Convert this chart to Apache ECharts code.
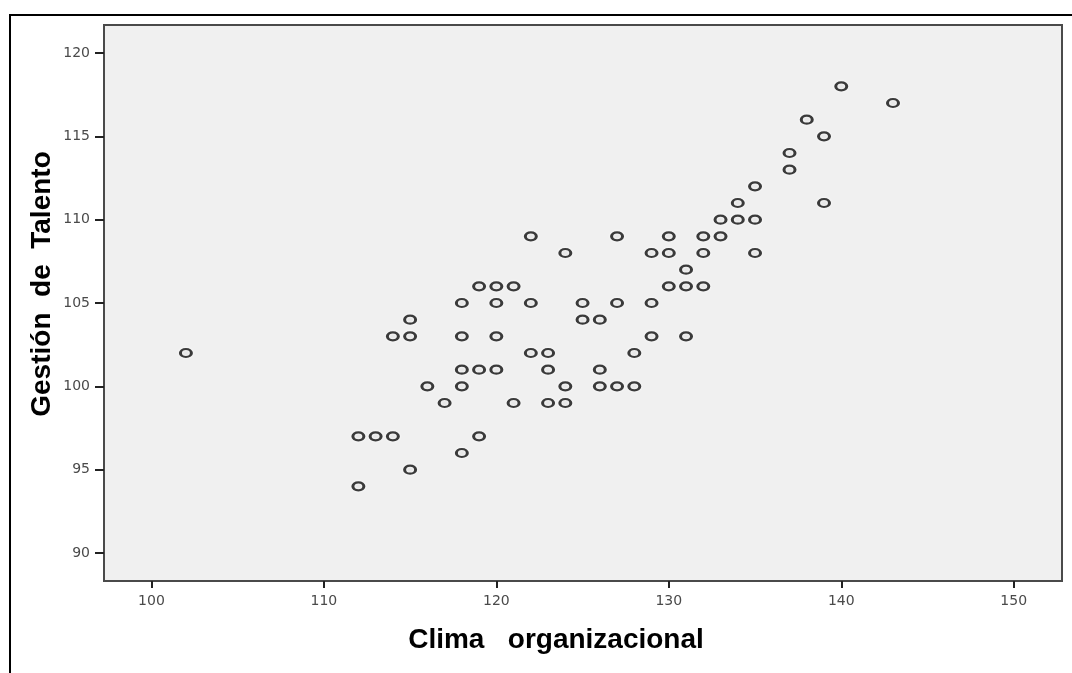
<!DOCTYPE html>
<html>
<head>
<meta charset="utf-8">
<script src="https://cdn.jsdelivr.net/npm/echarts@6/dist/echarts.min.js"></script>
<style>
html, body { margin: 0; padding: 0; background: #fff; }
#main { width: 1072px; height: 673px; }
</style>
</head>
<body>
<div id="main"></div>
<script>
// Clima organizacional (x) vs Gestión de Talento (y)
var clima = [102, 112, 113, 114, 112, 114, 115, 115, 115, 116, 117,
	118, 118, 118, 118, 118, 119, 119, 119, 120, 120, 120, 120, 121, 121,
	122, 122, 122, 123, 123, 123, 124, 124, 124, 125, 125, 126, 126, 126,
	127, 127, 127, 128, 128, 129, 129, 129, 130, 130, 130, 131, 131, 131,
	132, 132, 132, 133, 133, 134, 134, 135, 135, 135, 137, 137, 138, 139,
	139, 140, 143];
var gestion = [102, 97, 97, 97, 94, 103, 103, 104, 95, 100, 99,
	105, 103, 101, 100, 96, 106, 101, 97, 106, 105, 103, 101, 106, 99,
	109, 105, 102, 102, 101, 99, 108, 100, 99, 105, 104, 104, 101, 100,
	109, 105, 100, 102, 100, 108, 105, 103, 109, 108, 106, 107, 106, 103,
	109, 108, 106, 110, 109, 111, 110, 112, 110, 108, 114, 113, 116, 115,
	111, 118, 117];
var xTicks = [100, 110, 120, 130, 140, 150];
var yTicks = [90, 95, 100, 105, 110, 115, 120];

var points = [];
for (var i = 0; i < clima.length; i++) {
	points.push([clima[i], gestion[i]]);
}

var myChart = echarts.init(document.getElementById('main'));
var option = {
	backgroundColor: '#fff',
	animation: false,
	grid: {
		left: 104,
		right: 10,
		top: 25,
		bottom: 92,
		show: true,
		backgroundColor: '#f0f0f0',
		borderColor: '#4a4a4a',
		borderWidth: 2
	},
	xAxis: {
		type: 'value',
		min: 97.25,
		max: 152.8,
		splitLine: { show: false },
		axisLine: { onZero: false, lineStyle: { color: '#4a4a4a', width: 2 } },
		axisTick: {
			length: 7,
			customValues: xTicks,
			lineStyle: { color: '#222', width: 2 }
		},
		axisLabel: {
			customValues: xTicks,
			margin: 13,
			color: '#4a4a4a',
			fontSize: 14,
			fontFamily: 'DejaVu Sans'
		}
	},
	yAxis: {
		type: 'value',
		min: 88.32,
		max: 121.68,
		splitLine: { show: false },
		axisLine: { onZero: false, lineStyle: { color: '#4a4a4a', width: 2 } },
		axisTick: {
			length: 9,
			customValues: yTicks,
			lineStyle: { color: '#222', width: 2 }
		},
		axisLabel: {
			customValues: yTicks,
			margin: 14,
			color: '#4a4a4a',
			fontSize: 14,
			fontFamily: 'DejaVu Sans'
		}
	},
	graphic: [{
		type: 'rect',
		z: -10,
		shape: { x: 10, y: 15, width: 1100, height: 720 },
		style: { fill: 'none', stroke: '#000', lineWidth: 2 }
	}, {
		type: 'text',
		x: 42,
		y: 284,
		rotation: Math.PI / 2,
		style: {
			text: 'Gestión  de  Talento',
			font: 'bold 28px "Liberation Sans", Arial, sans-serif',
			fill: '#000',
			align: 'center',
			verticalAlign: 'middle'
		}
	}, {
		type: 'text',
		x: 556,
		y: 640,
		style: {
			text: 'Clima   organizacional',
			font: 'bold 28px "Liberation Sans", Arial, sans-serif',
			fill: '#000',
			align: 'center',
			verticalAlign: 'middle'
		}
	}],
	series: [{
		type: 'scatter',
		data: points,
		symbol: 'circle',
		symbolSize: [11, 8],
		itemStyle: {
			color: '#e6e6e6',
			borderColor: '#3a3a3a',
			borderWidth: 2.6,
			opacity: 1,
			shadowBlur: 3,
			shadowColor: 'rgba(255,255,255,0.95)'
		}
	}]
};
myChart.setOption(option);
</script>
</body>
</html>
